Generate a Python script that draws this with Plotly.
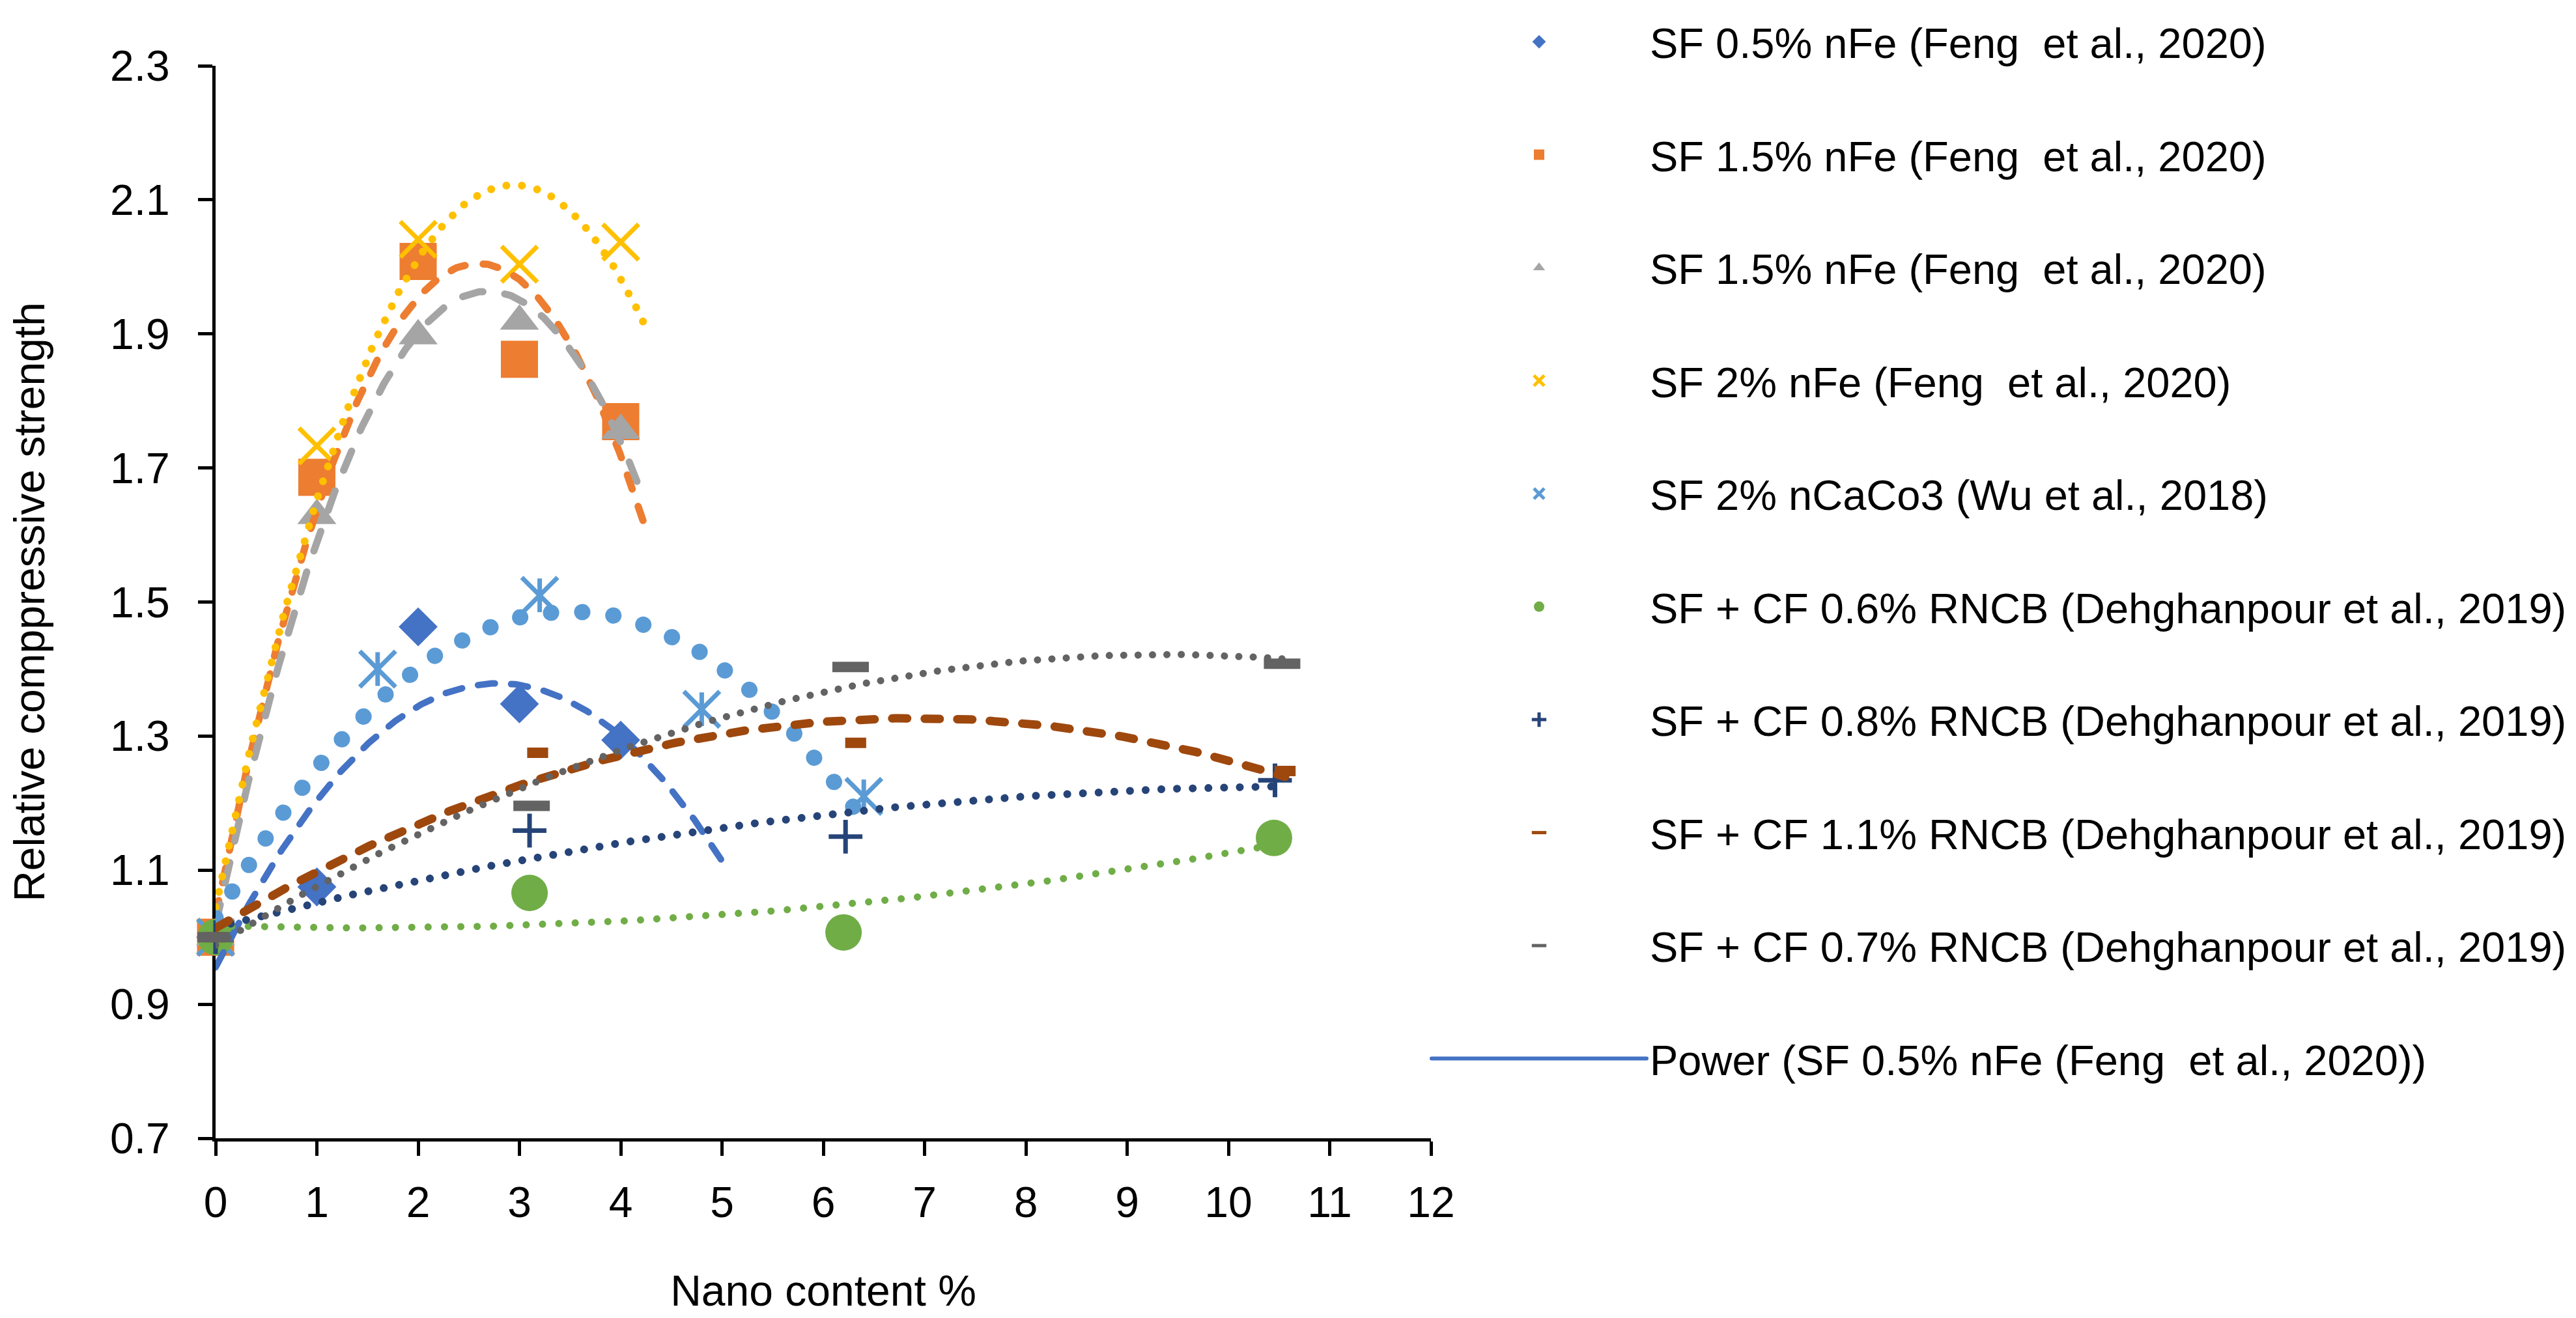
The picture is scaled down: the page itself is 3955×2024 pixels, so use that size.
import numpy as np
import plotly.graph_objects as go

# ---------------- data ----------------
x_feng = [0, 1, 2, 3, 4]
y_sf05_nfe = [1.0, 1.075, 1.463, 1.348, 1.294]
y_sf15_nfe_a = [1.0, 1.686, 2.008, 1.862, 1.769]
y_sf15_nfe_b = [1.0, 1.629, 1.897, 1.919, 1.756]
y_sf2_nfe = [1.0, 1.733, 2.041, 2.004, 2.037]

x_wu = [0, 1.6, 3.2, 4.8, 6.4]
y_wu = [1.0, 1.40, 1.51, 1.34, 1.21]

x_rncb06 = [0, 3.1, 6.2, 10.45]
y_rncb06 = [1.0, 1.066, 1.007, 1.148]
x_rncb08 = [0, 3.1, 6.22, 10.46]
y_rncb08 = [1.0, 1.159, 1.150, 1.234]
x_rncb11 = [0, 3.18, 6.32, 10.56]
y_rncb11 = [1.0, 1.275, 1.290, 1.248]
x_rncb07 = [0, 3.12, 6.27, 10.53]
y_rncb07 = [1.0, 1.196, 1.403, 1.408]

series_names = [
    "SF 0.5% nFe (Feng\u00a0 et al., 2020)",
    "SF 1.5% nFe (Feng\u00a0 et al., 2020)",
    "SF 1.5% nFe (Feng\u00a0 et al., 2020)",
    "SF 2% nFe (Feng\u00a0 et al., 2020)",
    "SF 2% nCaCo3 (Wu et al., 2018)",
    "SF + CF 0.6% RNCB (Dehghanpour et al., 2019)",
    "SF + CF 0.8% RNCB (Dehghanpour et al., 2019)",
    "SF + CF 1.1% RNCB (Dehghanpour et al., 2019)",
    "SF + CF 0.7% RNCB (Dehghanpour et al., 2019)",
]
power_name = "Power (SF 0.5% nFe (Feng\u00a0 et al., 2020))"

# end of each polynomial (order 2) trendline, in x units
trend_end = [5.0, 4.24, 4.24, 4.24, 6.4, 10.45, 10.46, 10.56, 10.53]

x_ticks = list(range(0, 13))
y_ticks = [0.7, 0.9, 1.1, 1.3, 1.5, 1.7, 1.9, 2.1, 2.3]

# ---------------- styles ----------------
xs = [x_feng, x_feng, x_feng, x_feng, x_wu, x_rncb06, x_rncb08, x_rncb11, x_rncb07]
ys = [y_sf05_nfe, y_sf15_nfe_a, y_sf15_nfe_b, y_sf2_nfe, y_wu,
      y_rncb06, y_rncb08, y_rncb11, y_rncb07]
colors = ["#4472C4", "#ED7D31", "#A5A5A5", "#FFC000", "#5B9BD5",
          "#70AD47", "#264478", "#9E480E", "#636363"]
markers = [
    dict(symbol="diamond", size=46),
    dict(symbol="square", size=57),
    dict(symbol="triangle-up", size=52),
    dict(symbol="x-thin-open", size=55, line=dict(width=7)),
    dict(symbol="x-thin-open", size=55, line=dict(width=7)),
    dict(symbol="circle", size=56),
    dict(symbol="cross-thin-open", size=37, line=dict(width=7)),
    dict(symbol="line-ew-open", size=23, line=dict(width=16)),
    dict(symbol="line-ew-open", size=40, line=dict(width=16)),
]
trend_styles = [
    dict(width=10, dash="26px,25px"),
    dict(width=11, dash="23px,28px"),
    dict(width=11, dash="32px,34px"),
    dict(width=12, dash="0.1px,24px"),
    dict(width=25, dash="0.1px,48px"),
    dict(width=11, dash="0.1px,25px"),
    dict(width=12, dash="0.1px,24px"),
    dict(width=13, dash="23px,27px"),
    dict(width=11, dash="0.1px,22px"),
]

FONT = "Liberation Sans"
FS = 66
LFS = 65

fig = go.Figure()

# data markers
for i in range(len(series_names)):
    m = dict(markers[i])
    m["color"] = colors[i]
    if "line" in m:
        m["line"] = dict(m["line"], color=colors[i])
    fig.add_trace(go.Scatter(
        x=xs[i], y=ys[i], mode="markers", name=series_names[i],
        marker=m, cliponaxis=False, legendgroup=f"g{i}", legendrank=i + 1,
    ))
    if i == 4:  # vertical stroke of the asterisk marker
        fig.add_trace(go.Scatter(
            x=xs[i], y=ys[i], mode="markers", showlegend=False,
            marker=dict(symbol="line-ns-open", size=37, color=colors[i],
                        line=dict(width=7, color=colors[i])),
            cliponaxis=False, legendgroup=f"g{i}", hoverinfo="skip",
        ))

# polynomial (order 2) trendlines, drawn above the markers
for i in range(len(series_names)):
    coef = np.polyfit(xs[i], ys[i], 2)
    xt = np.linspace(0, trend_end[i], 300)
    yt = np.polyval(coef, xt)
    fig.add_trace(go.Scatter(
        x=xt, y=yt, mode="lines", showlegend=False, hoverinfo="skip",
        line=dict(color=colors[i], **trend_styles[i]),
    ))

# power trendline (cannot be computed with x = 0, only its legend entry shows)
fig.add_trace(go.Scatter(
    x=[None], y=[None], mode="lines", name=power_name,
    line=dict(color="#4472C4", width=6), legendgroup="gp", legendrank=20,
))

axis_common = dict(
    showline=True, linecolor="black", linewidth=5,
    ticks="outside", ticklen=22, tickwidth=5, tickcolor="black",
    showgrid=False, zeroline=False, layer="below traces",
    tickfont=dict(family=FONT, size=FS, color="black"),
)

fig.update_layout(
    width=3955, height=2024,
    margin=dict(l=323, r=1766, t=93, b=284, autoexpand=False),
    paper_bgcolor="white", plot_bgcolor="white",
    font=dict(family=FONT, size=FS, color="black"),
    xaxis=dict(range=[0, 12], tickvals=x_ticks, ticklabelstandoff=15,
               title=dict(text="Nano content %", standoff=78,
                          font=dict(family=FONT, size=FS, color="black")),
               **axis_common),
    yaxis=dict(range=[0.7, 2.3], tickvals=y_ticks, tickformat=".1f",
               ticklabelstandoff=30,
               title=dict(text="Relative comppressive strength", standoff=80,
                          font=dict(family=FONT, size=FS, color="black")),
               **axis_common),
    legend=dict(
        x=(2185 - 323) / 1866, y=1.052, xanchor="left", yanchor="top",
        font=dict(family=FONT, size=LFS, color="black"),
        tracegroupgap=86, itemwidth=330, bgcolor="rgba(0,0,0,0)",
        traceorder="grouped", maxheight=2020,
    ),
    showlegend=True,
)

post = """
var gd = document.getElementById('{plot_id}');
function rc(){ gd.querySelectorAll('path.js-line').forEach(function(p){ p.style.strokeLinecap='round'; }); }
rc();
gd.on('plotly_afterplot', rc);
"""

fig.write_html("out.html", post_script=post, config={"responsive": False})
